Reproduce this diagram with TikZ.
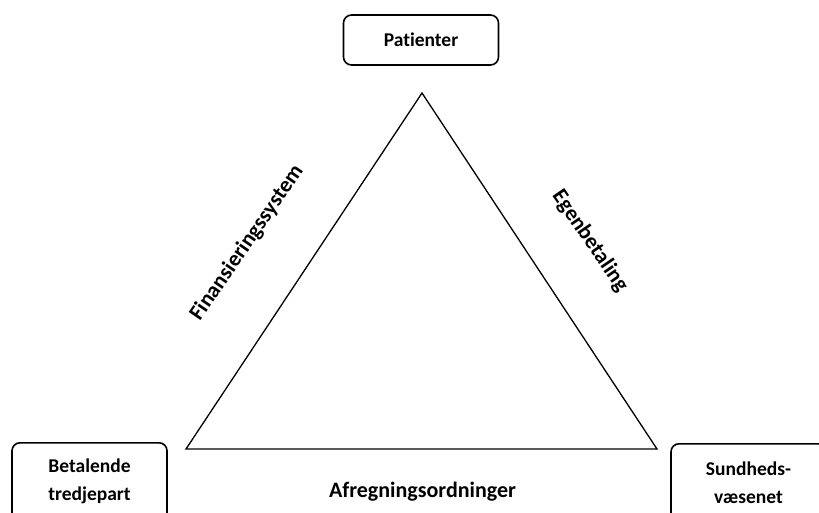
\documentclass[tikz,border=0pt]{standalone}
\usepackage{fontspec}
\setmainfont{Carlito}[Ligatures=NoCommon]
\begin{document}
\begin{tikzpicture}[x=1pt,y=-1pt,
  actor/.style={draw, line width=1.6pt, rounded corners=8pt, minimum width=155pt, inner sep=0pt, align=center, font=\fontsize{19.5}{28}\selectfont\bfseries},
  actortext/.style={font=\fontsize{19.5}{28}\selectfont\bfseries, align=center, inner sep=0pt},
  edgelabel/.style={font=\fontsize{22}{24}\selectfont\bfseries, inner sep=0pt},
  tri/.style={line width=1.3pt, line join=miter}]
\useasboundingbox (0,0) rectangle (819,512);
\clip (0,0) rectangle (819,512);
\node[actor, minimum height=50pt] (pat) at (421,40) {Patienter};
\node[actor, minimum height=80pt, anchor=north] (bet) at (89.5,442) {};
\node[actor, minimum height=80pt, anchor=north] (sun) at (748.5,443) {};
\node[actortext] (bett) at (89.5,481) {Betalende\\tredjepart};
\node[actortext] (sunt) at (748.5,483) {Sundheds-\\væsenet};
\coordinate (A) at (422,93);
\coordinate (B) at (186,449);
\coordinate (C) at (657,449);
\draw[tri] (A) -- (B) -- (C) -- cycle;
\node[edgelabel, rotate=55.5] (fin) at (247,243) {Finansieringssystem};
\node[edgelabel, rotate=-55.5] (ege) at (590,241) {Egenbetaling};
\node[edgelabel] (afr) at (422.5,492) {Afregningsordninger};
\end{tikzpicture}
\end{document}
